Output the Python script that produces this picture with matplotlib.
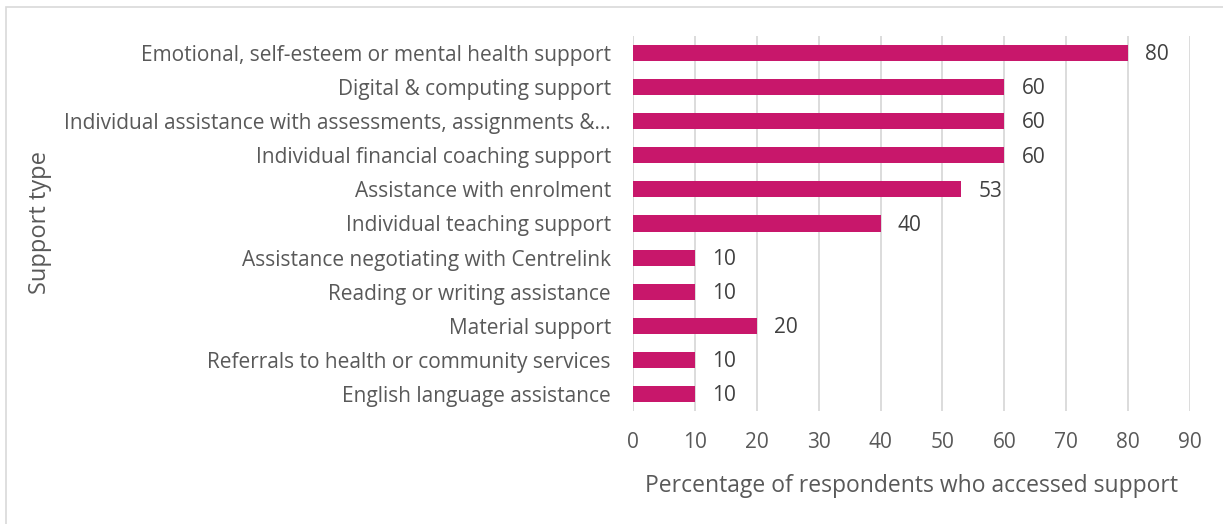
import matplotlib.pyplot as plt
from matplotlib.patches import Rectangle

# support categories, top to bottom, and percentage of respondents
support_types = [
    "Emotional, self-esteem or mental health support",
    "Digital & computing support",
    "Individual assistance with assessments, assignments &\u2026",
    "Individual financial coaching support",
    "Assistance with enrolment",
    "Individual teaching support",
    "Assistance negotiating with Centrelink",
    "Reading or writing assistance",
    "Material support",
    "Referrals to health or community services",
    "English language assistance",
]
percentages = [80, 60, 60, 60, 53, 40, 10, 10, 20, 10, 10]
x_ticks = [0, 10, 20, 30, 40, 50, 60, 70, 80, 90]

plt.rcParams['font.family'] = ['Open Sans', 'DejaVu Sans']
text_color = '#595959'
bar_color = '#c8176b'

fig = plt.figure(figsize=(12.23, 5.24), dpi=100)
ax = fig.add_axes([633 / 1223, 1 - 411 / 524, 557 / 1223, 375 / 524])

y = list(range(len(support_types)))
ax.barh(y, percentages, height=0.47, color=bar_color, zorder=3)
for yi, v in zip(y, percentages):
    ax.text(v + 2.8, yi + 0.05, str(v), va='center', ha='left', fontsize=15, color='#404040')

ax.set_xlim(0, 90)
ax.set_ylim(len(support_types) - 0.5, -0.5)
ax.set_xticks(x_ticks)
ax.set_yticks(y)
ax.set_yticklabels(support_types)
ax.tick_params(axis='both', length=0, labelsize=15, colors=text_color)
ax.tick_params(axis='y', pad=16)
ax.tick_params(axis='x', pad=15)
ax.grid(axis='x', color='#d9d9d9', linewidth=1.3, zorder=0)
ax.axvline(0, color='#d9d9d9', linewidth=1.3, zorder=1)
for s in ax.spines.values():
    s.set_visible(False)

ax.set_xlabel("Percentage of respondents who accessed support", fontsize=16.5, color=text_color, labelpad=15)
fig.text(40 / 1223, 1 - 223 / 524, "Support type", rotation=90, fontsize=17,
         color=text_color, ha='center', va='center')

# chart area frame
fig.patches.append(Rectangle((6 / 1223, -0.1), 1.1, 1 - 7 / 524 + 0.1,
                             transform=fig.transFigure, fill=False,
                             edgecolor='#d9d9d9', linewidth=1.2))

fig.savefig('out.png', dpi=100)
